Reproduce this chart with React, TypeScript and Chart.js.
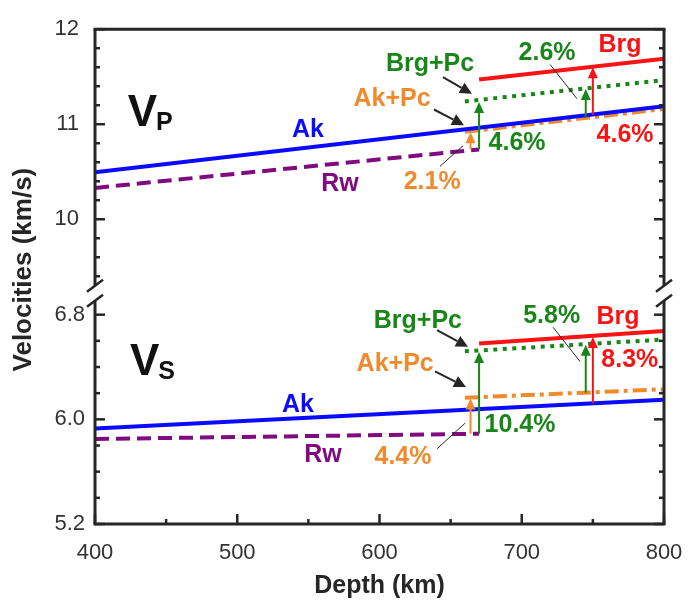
import React, { useEffect, useRef } from 'react';
import { Chart, registerables } from 'chart.js';
Chart.register(...registerables);

// ---------- axes / ticks ----------
const DEPTH_TICKS = [400, 500, 600, 700, 800];
const DEPTH_MINOR = [450, 550, 650, 750];
const VP_TICKS = [10, 11, 12];
const VP_MINOR = [9.4, 9.6, 9.8, 10.2, 10.4, 10.6, 10.8, 11.2, 11.4, 11.6, 11.8];
const VS_TICKS = [5.2, 6.0, 6.8];
const VS_MINOR = [5.4, 5.6, 5.8, 6.2, 6.4, 6.6];
const VP_RANGE = [9.216, 12];
const VS_RANGE = [5.2, 6.96];
const DEPTH_RANGE = [400, 800];

// ---------- series (depth in km, velocities in km/s) ----------
const AK_DEPTH = [400, 800];
const RW_DEPTH = [400, 670];
const AKPC_DEPTH = [660, 800];
const BRGPC_DEPTH = [660, 800];
const BRG_DEPTH = [670, 800];

const AK_VP = [10.495, 11.19];
const RW_VP = [10.33, 10.735];
const AKPC_VP = [10.92, 11.16];
const BRGPC_VP = [11.24, 11.465];
const BRG_VP = [11.47, 11.69];

const AK_VS = [5.93, 6.15];
const RW_VS = [5.85, 5.89];
const AKPC_VS = [6.165, 6.23];
const BRGPC_VS = [6.52, 6.61];
const BRG_VS = [6.58, 6.675];

// ---------- contrast arrows: [depth, from, to] ----------
const VP_ARROW_AKPC = [664, 10.735, 10.915];
const VP_ARROW_BRGPC = [670, 10.735, 11.235];
const VP_ARROW_PC = [745, 11.07, 11.37];
const VP_ARROW_BRG = [750, 11.10, 11.60];
const VS_ARROW_AKPC = [664, 5.89, 6.16];
const VS_ARROW_BRGPC = [670, 5.89, 6.515];
const VS_ARROW_PC = [745, 6.205, 6.57];
const VS_ARROW_BRG = [750, 6.122, 6.63];

const BLUE = '#0a0aff';
const PURPLE = '#800a80';
const ORANGE = '#f08a2c';
const GREEN = '#188618';
const RED = '#f81414';
const INK = '#262626';
const FONT = "'Liberation Sans', Arial, Helvetica, sans-serif";

type Lbl = { t: string; c: string; d: number; v: number; ax: 'yTop' | 'yBot' };
const LABELS: Lbl[] = [
  { t: 'Brg+Pc', c: GREEN, d: 635.5, v: 11.63, ax: 'yTop' },
  { t: 'Ak+Pc', c: ORANGE, d: 608.8, v: 11.26, ax: 'yTop' },
  { t: '2.6%', c: GREEN, d: 717.8, v: 11.75, ax: 'yTop' },
  { t: 'Brg', c: RED, d: 769, v: 11.835, ax: 'yTop' },
  { t: '4.6%', c: RED, d: 772.6, v: 10.887, ax: 'yTop' },
  { t: '4.6%', c: GREEN, d: 696.7, v: 10.80, ax: 'yTop' },
  { t: '2.1%', c: ORANGE, d: 637, v: 10.39, ax: 'yTop' },
  { t: 'Ak', c: BLUE, d: 549.7, v: 10.94, ax: 'yTop' },
  { t: 'Rw', c: PURPLE, d: 572.2, v: 10.37, ax: 'yTop' },
  { t: 'Brg+Pc', c: GREEN, d: 627, v: 6.75, ax: 'yBot' },
  { t: 'Ak+Pc', c: ORANGE, d: 611, v: 6.42, ax: 'yBot' },
  { t: '5.8%', c: GREEN, d: 721, v: 6.79, ax: 'yBot' },
  { t: 'Brg', c: RED, d: 767.7, v: 6.78, ax: 'yBot' },
  { t: '8.3%', c: RED, d: 776, v: 6.45, ax: 'yBot' },
  { t: '10.4%', c: GREEN, d: 698.8, v: 5.955, ax: 'yBot' },
  { t: '4.4%', c: ORANGE, d: 616.5, v: 5.715, ax: 'yBot' },
  { t: 'Ak', c: BLUE, d: 542.7, v: 6.11, ax: 'yBot' },
  { t: 'Rw', c: PURPLE, d: 560.3, v: 5.73, ax: 'yBot' },
];

type Seg = { ax: 'yTop' | 'yBot'; a: number[]; b: number[] };
const POINTERS: Seg[] = [
  { ax: 'yTop', a: [644.6, 11.495], b: [665.0, 11.32] },
  { ax: 'yTop', a: [638.3, 11.155], b: [659.4, 10.99] },
  { ax: 'yBot', a: [640.4, 6.682], b: [662.2, 6.554] },
  { ax: 'yBot', a: [639.0, 6.367], b: [660.8, 6.247] },
];
const LEADERS: Seg[] = [
  { ax: 'yTop', a: [719.9, 11.629], b: [738.8, 11.268] },
  { ax: 'yTop', a: [642.5, 10.557], b: [658.7, 10.773] },
  { ax: 'yBot', a: [722.0, 6.704], b: [741.0, 6.442] },
  { ax: 'yBot', a: [640.4, 5.775], b: [660.1, 5.97] },
];
const PANEL_TITLES = [
  { main: 'V', sub: 'P', d: 423, v: 10.98, ax: 'yTop' },
  { main: 'V', sub: 'S', d: 424.6, v: 6.337, ax: 'yBot' },
];

const pts = (xs: number[], ys: number[]) => xs.map((x, i) => ({ x, y: ys[i] }));

function ds(label: string, xs: number[], ys: number[], color: string, ax: string, dash: number[]) {
  return {
    label,
    data: pts(xs, ys),
    borderColor: color,
    backgroundColor: color,
    borderWidth: 4,
    borderDash: dash,
    pointRadius: 0,
    fill: false,
    tension: 0,
    yAxisID: ax,
  };
}

const SOLID: number[] = [];
const DASHED = [14, 7];
const DASHDOT = [14, 5, 4, 5];
const DOTTED = [4, 5.5];

function arrowUp(ctx: CanvasRenderingContext2D, x: number, y0: number, y1: number, color: string) {
  const hl = 11, hw = 5;
  ctx.strokeStyle = color;
  ctx.fillStyle = color;
  ctx.lineWidth = 2;
  ctx.beginPath();
  ctx.moveTo(x, y0);
  ctx.lineTo(x, y1 + hl - 1);
  ctx.stroke();
  ctx.beginPath();
  ctx.moveTo(x, y1);
  ctx.lineTo(x - hw, y1 + hl);
  ctx.lineTo(x + hw, y1 + hl);
  ctx.closePath();
  ctx.fill();
}

function pointer(ctx: CanvasRenderingContext2D, x0: number, y0: number, x1: number, y1: number) {
  const ang = Math.atan2(y1 - y0, x1 - x0);
  const hl = 12, hw = 6;
  const bx = x1 - hl * Math.cos(ang), by = y1 - hl * Math.sin(ang);
  ctx.strokeStyle = INK;
  ctx.fillStyle = INK;
  ctx.lineWidth = 2;
  ctx.beginPath();
  ctx.moveTo(x0, y0);
  ctx.lineTo(bx, by);
  ctx.stroke();
  ctx.beginPath();
  ctx.moveTo(x1, y1);
  ctx.lineTo(bx + hw * Math.sin(ang), by - hw * Math.cos(ang));
  ctx.lineTo(bx - hw * Math.sin(ang), by + hw * Math.cos(ang));
  ctx.closePath();
  ctx.fill();
}

const framePlugin = {
  id: 'frameAndNotes',
  afterDatasetsDraw(chart: any) {
    const ctx: CanvasRenderingContext2D = chart.ctx;
    const { left, right, top, bottom } = chart.chartArea;
    const xs = chart.scales.x, yT = chart.scales.yTop, yB = chart.scales.yBot;
    const brk = yT.bottom;
    const g0 = brk - 8, g1 = brk + 7;
    ctx.save();
    ctx.strokeStyle = INK;
    ctx.lineCap = 'butt';

    // tick marks (inward)
    ctx.lineWidth = 2.5;
    const hTick = (y: number, len: number) => {
      ctx.beginPath(); ctx.moveTo(left, y); ctx.lineTo(left + len, y); ctx.stroke();
      ctx.beginPath(); ctx.moveTo(right, y); ctx.lineTo(right - len, y); ctx.stroke();
    };
    VP_TICKS.forEach(v => hTick(yT.getPixelForValue(v), 10));
    VP_MINOR.forEach(v => hTick(yT.getPixelForValue(v), 5));
    VS_TICKS.forEach(v => hTick(yB.getPixelForValue(v), 10));
    VS_MINOR.forEach(v => hTick(yB.getPixelForValue(v), 5));
    const vTick = (x: number, len: number) => {
      ctx.beginPath(); ctx.moveTo(x, bottom); ctx.lineTo(x, bottom - len); ctx.stroke();
    };
    DEPTH_TICKS.forEach(v => vTick(xs.getPixelForValue(v), 10));
    DEPTH_MINOR.forEach(v => vTick(xs.getPixelForValue(v), 5));

    // frame
    ctx.lineWidth = 3;
    const seg = (a: number, b: number, c: number, d: number) => {
      ctx.beginPath(); ctx.moveTo(a, b); ctx.lineTo(c, d); ctx.stroke();
    };
    seg(left - 1.5, top, right + 1.5, top);
    seg(left - 1.5, bottom, right + 1.5, bottom);
    seg(left, top, left, g0);
    seg(left, g1, left, bottom);
    seg(right, top, right, g0);
    seg(right, g1, right, bottom);
    // break marks
    ctx.lineWidth = 2.5;
    [left, right].forEach(x => {
      [g0, g1].forEach(y => seg(x - 8, y + 6, x + 8, y - 6));
    });

    // contrast arrows
    const ar = (a: number[], sc: any, col: string) =>
      arrowUp(ctx, xs.getPixelForValue(a[0]), sc.getPixelForValue(a[1]), sc.getPixelForValue(a[2]), col);
    ar(VP_ARROW_AKPC, yT, ORANGE);
    ar(VP_ARROW_BRGPC, yT, GREEN);
    ar(VP_ARROW_PC, yT, GREEN);
    ar(VP_ARROW_BRG, yT, RED);
    ar(VS_ARROW_AKPC, yB, ORANGE);
    ar(VS_ARROW_BRGPC, yB, GREEN);
    ar(VS_ARROW_PC, yB, GREEN);
    ar(VS_ARROW_BRG, yB, RED);

    // leader lines
    ctx.strokeStyle = INK;
    ctx.lineWidth = 1;
    LEADERS.forEach(s => {
      const sc = chart.scales[s.ax];
      seg(xs.getPixelForValue(s.a[0]), sc.getPixelForValue(s.a[1]), xs.getPixelForValue(s.b[0]), sc.getPixelForValue(s.b[1]));
    });
    // pointer arrows
    POINTERS.forEach(s => {
      const sc = chart.scales[s.ax];
      pointer(ctx, xs.getPixelForValue(s.a[0]), sc.getPixelForValue(s.a[1]), xs.getPixelForValue(s.b[0]), sc.getPixelForValue(s.b[1]));
    });

    // labels
    ctx.textAlign = 'center';
    ctx.textBaseline = 'middle';
    ctx.font = `bold 25px ${FONT}`;
    LABELS.forEach(l => {
      const sc = chart.scales[l.ax];
      ctx.fillStyle = l.c;
      ctx.fillText(l.t, xs.getPixelForValue(l.d), sc.getPixelForValue(l.v));
    });

    // panel titles V_P, V_S
    ctx.textAlign = 'left';
    ctx.textBaseline = 'alphabetic';
    ctx.fillStyle = '#111';
    PANEL_TITLES.forEach(p => {
      const sc = chart.scales[p.ax];
      const px = xs.getPixelForValue(p.d), py = sc.getPixelForValue(p.v);
      ctx.font = `bold 44px ${FONT}`;
      ctx.fillText(p.main, px, py);
      const w = ctx.measureText(p.main).width;
      ctx.font = `bold 25px ${FONT}`;
      ctx.fillText(p.sub, px + w - 1, py + 4);
    });

    // y-axis title
    ctx.save();
    ctx.translate(24, (top + bottom) / 2 - 7);
    ctx.rotate(-Math.PI / 2);
    ctx.textAlign = 'center';
    ctx.textBaseline = 'middle';
    ctx.font = `bold 26px ${FONT}`;
    ctx.fillStyle = INK;
    ctx.fillText('Velocities (km/s)', 0, 0);
    ctx.restore();

    ctx.restore();
  },
};

export default function App() {
  const ref = useRef<HTMLCanvasElement>(null);
  useEffect(() => {
    const chart = new Chart(ref.current as HTMLCanvasElement, {
      type: 'line',
      data: {
        datasets: [
          ds('Brg Vp', BRG_DEPTH, BRG_VP, RED, 'yTop', SOLID),
          ds('Brg+Pc Vp', BRGPC_DEPTH, BRGPC_VP, GREEN, 'yTop', DOTTED),
          ds('Ak Vp', AK_DEPTH, AK_VP, BLUE, 'yTop', SOLID),
          ds('Ak+Pc Vp', AKPC_DEPTH, AKPC_VP, ORANGE, 'yTop', DASHDOT),
          ds('Rw Vp', RW_DEPTH, RW_VP, PURPLE, 'yTop', DASHED),
          ds('Brg Vs', BRG_DEPTH, BRG_VS, RED, 'yBot', SOLID),
          ds('Brg+Pc Vs', BRGPC_DEPTH, BRGPC_VS, GREEN, 'yBot', DOTTED),
          ds('Ak+Pc Vs', AKPC_DEPTH, AKPC_VS, ORANGE, 'yBot', DASHDOT),
          ds('Ak Vs', AK_DEPTH, AK_VS, BLUE, 'yBot', SOLID),
          ds('Rw Vs', RW_DEPTH, RW_VS, PURPLE, 'yBot', DASHED),
        ] as any,
      },
      options: {
        responsive: false,
        animation: false,
        devicePixelRatio: 1,
        layout: { padding: { top: 19, right: 25, left: 0, bottom: 0 } },
        plugins: { legend: { display: false }, tooltip: { enabled: false } },
        scales: {
          x: {
            type: 'linear',
            min: DEPTH_RANGE[0],
            max: DEPTH_RANGE[1],
            grid: { display: false, drawTicks: false },
            border: { display: false },
            afterBuildTicks: (s: any) => { s.ticks = DEPTH_TICKS.map(v => ({ value: v })); },
            afterFit: (s: any) => { s.height = 85; s.paddingLeft = 0; s.paddingRight = 0; },
            ticks: { color: '#333', font: { family: FONT, size: 22 }, padding: 16, maxRotation: 0, autoSkip: false },
            title: { display: true, text: 'Depth (km)', color: INK, font: { family: FONT, size: 25, weight: 'bold' }, padding: { top: 0, bottom: 8 } },
          },
          yBot: {
            type: 'linear',
            position: 'left',
            stack: 'v',
            stackWeight: 235,
            min: VS_RANGE[0],
            max: VS_RANGE[1],
            grid: { display: false, drawTicks: false },
            border: { display: false },
            afterBuildTicks: (s: any) => { s.ticks = VS_TICKS.map(v => ({ value: v })); },
            afterFit: (s: any) => { s.width = 95; },
            ticks: { color: '#333', font: { family: FONT, size: 22 }, padding: 10, autoSkip: false, callback: (v: any) => Number(v).toFixed(1) },
          },
          yTop: {
            type: 'linear',
            position: 'left',
            stack: 'v',
            stackWeight: 270,
            min: VP_RANGE[0],
            max: VP_RANGE[1],
            grid: { display: false, drawTicks: false },
            border: { display: false },
            afterBuildTicks: (s: any) => { s.ticks = VP_TICKS.map(v => ({ value: v })); },
            afterFit: (s: any) => { s.width = 95; },
            ticks: { color: '#333', font: { family: FONT, size: 22 }, padding: 16, autoSkip: false, callback: (v: any) => String(Math.round(Number(v))) },
          },
        },
      } as any,
      plugins: [framePlugin],
    });
    return () => chart.destroy();
  }, []);
  return (
    <div style={{ position: 'absolute', left: 0, top: 0, width: 689, height: 609, background: '#fff' }}>
      <canvas ref={ref} width={689} height={609} style={{ display: 'block', width: 689, height: 609 }} />
    </div>
  );
}
